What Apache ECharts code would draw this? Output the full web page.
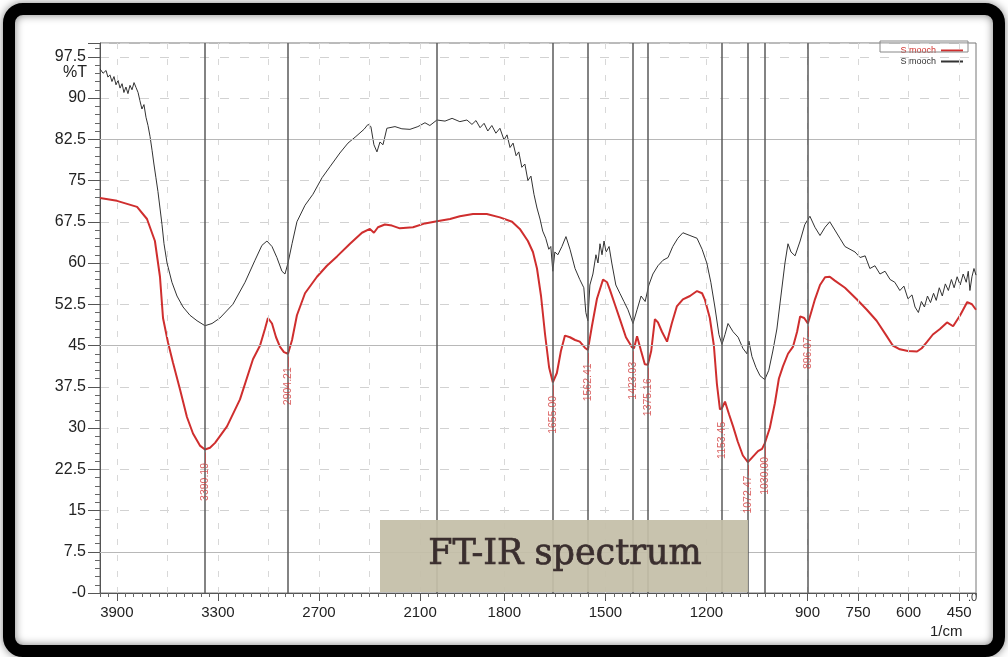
<!DOCTYPE html>
<html>
<head>
<meta charset="utf-8">
<script src="https://cdn.jsdelivr.net/npm/echarts@6.0.0/dist/echarts.min.js"></script>
<style>
  html, body { margin: 0; padding: 0; background: #fff; }
  #main { width: 1008px; height: 657px; }
</style>
</head>
<body>
<div id="main"></div>
<script type="text/javascript">
// wavenumber (1/cm) and %T of the two spectra
var redWave = [4000, 3899, 3780, 3721, 3674, 3644, 3626, 3596, 3567, 3525, 3484, 3448, 3407, 3377, 3347, 3317, 3246, 3169, 3092, 3050, 3021, 3003, 2979, 2955, 2932, 2908, 2884, 2860, 2831, 2783, 2712, 2653, 2593, 2516, 2445, 2398, 2374, 2350, 2309, 2267, 2220, 2142, 2071, 2000,
  1961, 1932, 1893, 1852, 1813, 1777, 1754, 1730, 1715, 1703, 1691, 1679, 1667, 1656, 1644, 1632, 1620, 1605, 1590, 1576, 1561, 1552, 1540, 1525, 1507, 1495, 1487, 1472, 1457, 1439, 1421, 1415, 1406, 1394, 1383, 1374, 1364, 1353, 1344, 1332, 1317, 1303, 1288, 1270, 1249, 1228, 1213, 1205, 1190, 1178, 1169, 1160, 1154, 1145, 1133, 1121, 1107, 1092, 1077, 1062, 1047, 1035, 1027, 1012, 997, 985, 973, 958, 943, 931, 922, 910, 899, 887, 878, 863, 848, 834, 819, 789, 754, 724, 695, 665, 647, 626, 602, 575, 561, 546, 528, 507, 486, 468, 447, 426, 412, 400];
var redT = [71.8, 71.3, 70.2, 68.0, 64.0, 57.5, 50.0, 45.5, 41.9, 37.0, 32.0, 29.0, 26.8, 26.1, 26.4, 27.3, 30.3, 35.2, 42.5, 45.0, 48.0, 50.0, 49.0, 46.5, 44.8, 43.8, 43.5, 46.0, 50.5, 54.5, 57.5, 59.5, 61.2, 63.5, 65.5, 66.2, 65.5, 66.5, 67.0, 66.8, 66.3, 66.5, 67.2, 67.6,
  68.0, 68.5, 68.9, 68.9, 68.3, 67.5, 66.2, 64.0, 62.0, 59.0, 54.0, 47.0, 41.0, 38.3, 40.0, 44.0, 46.8, 46.5, 46.0, 45.7, 44.6, 44.2, 48.5, 53.5, 57.0, 56.5, 55.2, 52.5, 49.8, 46.5, 44.7, 44.5, 46.7, 44.0, 41.6, 41.5, 44.0, 49.8, 49.2, 47.5, 45.7, 49.0, 52.1, 53.4, 54.0, 54.9, 54.5, 53.4, 50.0, 45.0, 38.0, 33.4, 33.6, 34.8, 32.5, 30.3, 27.5, 25.0, 23.8, 24.8, 25.8, 26.2, 27.2, 30.0, 34.5, 39.0, 41.2, 43.5, 44.8, 47.5, 50.3, 50.0, 49.0, 51.5, 53.4, 56.0, 57.4, 57.5, 56.8, 55.5, 53.4, 51.5, 49.5, 46.7, 45.0, 44.3, 44.0, 43.9, 44.5, 45.6, 47.0, 48.0, 49.2, 48.5, 50.5, 52.9, 52.5, 51.5];

var blackWave = [4000, 3982, 3964, 3953, 3941, 3929, 3917, 3905, 3893, 3881, 3869, 3858, 3846, 3834, 3822, 3810, 3798, 3786, 3774, 3763, 3751, 3739, 3727, 3715, 3703, 3691, 3680, 3668, 3656, 3644, 3632, 3620, 3602, 3573, 3543, 3507, 3466, 3424, 3377, 3335, 3288, 3211, 3139, 3080, 3039, 3009, 2979, 2950, 2920, 2902, 2884, 2860, 2831, 2783, 2736, 2682, 2635, 2576, 2528, 2481, 2433, 2409, 2392, 2374, 2356, 2338, 2320, 2297, 2249, 2208, 2160, 2113, 2071, 2042, 2000,
  1976, 1955, 1932, 1911, 1896, 1884, 1872, 1860, 1849, 1837, 1825, 1813, 1801, 1792, 1783, 1774, 1765, 1757, 1748, 1739, 1730, 1721, 1712, 1703, 1694, 1686, 1677, 1668, 1662, 1656, 1650, 1641, 1629, 1617, 1605, 1590, 1576, 1564, 1558, 1552, 1546, 1537, 1528, 1522, 1516, 1510, 1504, 1498, 1489, 1481, 1469, 1457, 1445, 1433, 1418, 1406, 1394, 1382, 1371, 1359, 1344, 1329, 1314, 1300, 1285, 1270, 1249, 1228, 1213, 1199, 1187, 1175, 1163, 1154, 1145, 1136, 1121, 1106, 1092, 1080, 1074, 1065, 1053, 1041, 1027, 1015, 1003, 991, 979, 967, 958, 949, 937, 922, 908, 893, 878, 863, 848, 834, 819, 804, 789, 774, 759, 744, 729, 715, 700, 685, 670, 655, 641, 626, 614, 602, 590, 581, 571, 562, 553, 544, 535, 526, 518, 509, 500, 491, 482, 473, 465, 456, 447, 438, 429, 423, 418, 412, 406, 400];
var blackT = [95.3, 94.5, 95.0, 93.8, 94.2, 93.0, 93.9, 92.4, 93.2, 91.8, 92.6, 91.0, 92.0, 90.8, 92.3, 91.5, 92.8, 91.9, 91.0, 89.5, 88.0, 88.8, 86.5, 85.0, 83.0, 80.5, 78.0, 75.5, 73.0, 70.0, 67.0, 63.5, 60.0, 56.5, 54.0, 52.0, 50.5, 49.5, 48.6, 49.0, 50.0, 52.5, 56.5, 60.5, 63.2, 64.0, 63.0, 61.0, 58.5, 58.0, 60.0, 63.5, 67.5, 70.5, 72.5, 75.5, 77.5, 80.0, 81.8, 83.0, 84.3, 85.2, 84.8, 81.5, 80.2, 82.0, 81.5, 84.5, 84.8, 84.4, 84.3, 84.8, 85.5, 85.0, 86.0,
  85.8, 86.3, 85.7, 86.0, 85.2, 85.9, 84.6, 85.4, 84.0, 85.0, 83.6, 84.5, 82.4, 83.3, 81.0, 81.8, 79.5, 80.2, 77.4, 78.0, 75.0, 75.8, 72.5, 70.0, 68.0, 65.8, 64.5, 62.5, 63.0, 58.5, 62.0, 61.5, 63.0, 64.8, 62.5, 59.0, 57.0, 55.5, 51.0, 49.5, 56.0, 58.0, 61.5, 60.0, 63.5, 61.5, 64.0, 62.0, 63.0, 60.0, 56.0, 54.5, 53.0, 51.5, 49.0, 51.5, 54.0, 53.0, 56.0, 58.0, 59.5, 60.5, 61.0, 63.0, 64.5, 65.5, 65.0, 64.5, 62.5, 60.0, 56.5, 52.0, 47.0, 45.2, 47.0, 49.0, 47.5, 46.5, 44.5, 43.5, 45.8, 43.0, 41.0, 39.5, 38.8, 40.5, 44.0, 48.0, 54.0, 60.0, 63.5, 62.0, 61.3, 64.0, 67.0, 68.5, 66.5, 65.0, 66.5, 67.5, 66.0, 64.5, 63.0, 62.5, 62.0, 61.0, 61.3, 59.0, 59.5, 58.0, 58.5, 57.0, 56.5, 55.0, 55.8, 53.5, 54.2, 52.0, 51.0, 53.0, 52.0, 54.0, 52.8, 54.5, 53.2, 55.5, 54.0, 56.2, 55.0, 57.0, 55.5, 57.5, 56.0, 58.0, 56.5, 58.5, 55.0, 57.5, 59.0, 57.8];

// picked peaks (red spectrum)
var peakWave = [3377, 2884, 1656, 1552, 1418, 1373, 1154, 1077, 1027, 899];
var peakT = [26.1, 43.5, 38.3, 44.2, 44.5, 41.5, 33.6, 23.8, 27.2, 49.0];
var peakText = ['3390.19', '2904.21', '1655.00', '1562.41', '1423.03', '1375.16', '1153.45', '1072.47', '1030.00', '896.07'];
var markWave = [2000];

// axis ticks
var xTickLabels = [3900, 3300, 2700, 2100, 1800, 1500, 1200, 900, 750, 600, 450];
var xGridWave = [3900, 3600, 3300, 3000, 2700, 2400, 2100, 1800, 1500, 1200, 900, 750, 600, 450];
var ySolid = [7.5, 45, 82.5];

// half scale above 2000 1/cm, like the instrument print
function toPos(w) {
    return w >= 2000 ? (4000 - w) / 2 : 1000 + (2000 - w);
}
function toWave(p) {
    return p <= 1000 ? 4000 - p * 2 : 2000 - (p - 1000);
}
function pairs(ws, ts) {
    return ws.map(function (w, i) { return [toPos(w), ts[i]]; });
}

var myChart = echarts.init(document.getElementById('main'));
var labelFont = 'Liberation Sans, Arial, sans-serif';

var option = {
    backgroundColor: '#fff',
    animation: false,
    grid: { left: 100, right: 32, top: 43, bottom: 64, show: true, borderColor: '#777', borderWidth: 1 },
    legend: {
        right: 40, top: 41, orient: 'vertical', align: 'right', itemGap: 2,
        itemWidth: 22, itemHeight: 2, icon: 'rect',
        textStyle: { fontSize: 9, fontFamily: labelFont },
        formatter: function () { return 'S mooch'; },
        data: [
            { name: 'red', textStyle: { color: '#d0312d' } },
            { name: 'black', textStyle: { color: '#333' } }
        ]
    },
    xAxis: [{
        type: 'value', min: 0, max: 2600, interval: 25,
        axisLine: { lineStyle: { color: '#555' } },
        axisTick: { length: 4, lineStyle: { color: '#666' } },
        splitLine: { show: false },
        axisLabel: {
            customValues: xTickLabels.map(toPos),
            margin: 12, color: '#222', fontSize: 15, fontFamily: labelFont,
            formatter: function (v) { return String(toWave(v)); }
        }
    }, {
        type: 'value', min: 0, max: 2600, position: 'bottom', offset: 0,
        axisLine: { show: false },
        axisTick: { customValues: xTickLabels.map(toPos), length: 8, lineStyle: { color: '#555' } },
        axisLabel: { show: false },
        splitLine: { show: false }
    }],
    yAxis: {
        type: 'value', min: 0, max: 100, interval: 7.5,
        axisLine: { show: true, lineStyle: { color: '#555' } },
        axisTick: { show: true, length: 12, lineStyle: { color: '#555' } },
        minorTick: { show: true, splitNumber: 5, length: 5, lineStyle: { color: '#666' } },
        splitLine: { show: true, lineStyle: { color: '#d2d2d2', type: [9, 11] } },
        axisLabel: {
            margin: 14, color: '#222', fontSize: 16, fontFamily: labelFont,
            formatter: function (v) { return v === 0 ? '-0' : (v > 98 ? '' : String(v)); }
        }
    },
    series: [{
        name: 'grid', type: 'line', data: [], silent: true,
        markLine: {
            symbol: 'none', silent: true, label: { show: false },
            data: xGridWave.map(function (w) {
                return { xAxis: toPos(w), lineStyle: { color: '#d8d8d8', type: [6, 10], width: 1 } };
            }).concat(ySolid.map(function (t) {
                return { yAxis: t, lineStyle: { color: '#b8b8b8', type: 'solid', width: 1 } };
            }))
        }
    }, {
        name: 'peaks', type: 'line', data: [], silent: true, z: 1,
        markLine: {
            symbol: 'none', silent: true, label: { show: false },
            lineStyle: { color: '#5a5a5a', type: 'solid', width: 1.5 },
            data: peakWave.concat(markWave).map(function (w) { return { xAxis: toPos(w) }; })
        }
    }, {
        name: 'black', type: 'line', data: pairs(blackWave, blackT), showSymbol: false, z: 3,
        lineStyle: { color: '#333', width: 1 }, itemStyle: { color: '#333' }
    }, {
        name: 'red', type: 'line', data: pairs(redWave, redT), showSymbol: false, z: 4,
        lineStyle: { color: '#cf2e2e', width: 2 }, itemStyle: { color: '#cf2e2e' }
    }, {
        name: 'labels', type: 'scatter', symbolSize: 0, silent: true, z: 5,
        data: pairs(peakWave, peakT),
        label: {
            show: true, position: 'bottom', distance: 3, rotate: 90,
            align: 'right', verticalAlign: 'middle',
            color: '#d23a3a', fontSize: 10.5, fontFamily: labelFont,
            formatter: function (p) { return peakText[p.dataIndex] + '—'; }
        }
    }],
    graphic: [
        { type: 'text', left: 63, top: 65, style: { text: '%T', fontSize: 16, fill: '#222', fontFamily: labelFont } },
        { type: 'text', left: 968, top: 592, style: { text: '.0', fontSize: 11, fill: '#333', fontFamily: labelFont } },
        { type: 'text', left: 930, top: 624, style: { text: '1/cm', fontSize: 15, fill: '#222', fontFamily: labelFont } },
        { type: 'rect', shape: { x: 880, y: 41, width: 88, height: 11 }, z: 10, style: { fill: 'none', stroke: '#888', lineWidth: 1 } },
        { type: 'rect', shape: { x: 380, y: 520, width: 368, height: 72 }, z: 20, style: { fill: 'rgba(196,190,168,0.93)' } },
        { type: 'text', x: 565, y: 555, z: 21, style: { text: 'FT-IR spectrum', fontSize: 35, fill: '#3a2e2e', stroke: '#3a2e2e', lineWidth: 0.7, fontFamily: 'DejaVu Serif, serif', align: 'center', verticalAlign: 'middle' } },
        { type: 'rect', shape: { x: 9, y: 9, width: 990, height: 642, r: 14 }, z: 30, style: { fill: 'none', stroke: '#000', lineWidth: 12, shadowBlur: 8, shadowColor: 'rgba(0,0,0,0.5)' } }
    ]
};
myChart.setOption(option);
</script>
</body>
</html>
